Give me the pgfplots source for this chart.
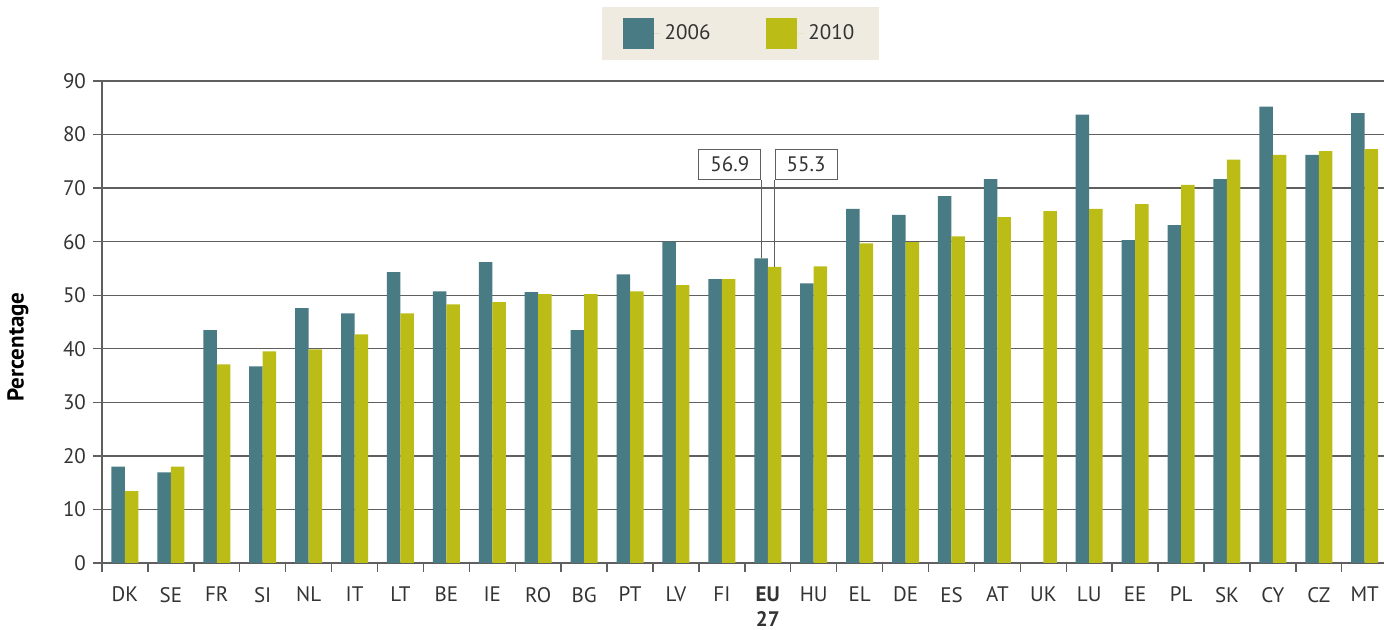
\documentclass[border=0pt]{standalone}
\usepackage{fontspec}
\setmainfont{PT Sans}
\usepackage{pgfplots}
\pgfplotsset{compat=1.18}

\definecolor{teal06}{RGB}{73,123,132}
\definecolor{olive10}{RGB}{187,189,22}
\definecolor{legbg}{RGB}{239,235,225}
\definecolor{txt}{RGB}{51,51,51}
\definecolor{gridc}{RGB}{95,95,95}

\begin{document}
\begin{tikzpicture}
\begin{axis}[
    name=ax,
    scale only axis,
    width=641pt, height=241pt,
    ybar=0pt, bar width=6.75pt,
    xmin=-0.5, xmax=27.42,
    ymin=0, ymax=90,
    ytick={0,10,...,90},
    xtick={0,...,27},
    xticklabels={DK,SE,FR,SI,NL,IT,LT,BE,IE,RO,BG,PT,LV,FI,{\textbf{EU}\\\textbf{27}},HU,EL,DE,ES,AT,UK,LU,EE,PL,SK,CY,CZ,MT},
    minor xtick={-0.5,0.5,...,26.5},
    xtick style={draw=none},
    minor x tick style={draw=gridc, line width=0.7pt},
    y tick style={draw=gridc, line width=0.7pt},
    tick align=outside,
    major tick length=4.5pt, minor tick length=4.5pt,
    axis x line*=bottom, axis y line*=left,
    axis line style={-, draw=gridc, line width=0.8pt},
    ymajorgrids=true,
    grid style={draw=gridc, line width=0.7pt},
    /pgf/number format/assume math mode=true,
    tick label style={font=\fontsize{10.5}{12.5}\selectfont, text=txt},
    xticklabel style={align=center, yshift=-4pt},
    ylabel={\textbf{Percentage}},
    ylabel style={at={(axis description cs:-0.0655,0.448)}, anchor=center, font=\fontsize{11.5}{12}\selectfont, text=black},
    legend columns=2,
    legend image code/.code={\fill[#1] (0pt,-7.75pt) rectangle (15.5pt,7.75pt); \path (15.5pt,0pt) -- (19pt,0pt);},
    legend style={at={(0.498,1.1535)}, anchor=north, fill=legbg, draw=none,
        inner xsep=10.5pt, inner ysep=5.5pt,
        font=\fontsize{10.5}{12}\selectfont, text=txt,
        /tikz/every even column/.append style={column sep=26pt}},
]
\addplot[fill=teal06, draw=none] coordinates {
    (0,18.0) (1,16.9) (2,43.5) (3,36.7) (4,47.6) (5,46.6) (6,54.3) (7,50.7)
    (8,56.2) (9,50.6) (10,43.5) (11,53.9) (12,60.0) (13,53.0) (14,56.9) (15,52.2)
    (16,66.1) (17,65.0) (18,68.5) (19,71.7) (21,83.7) (22,60.3) (23,63.1)
    (24,71.7) (25,85.2) (26,76.2) (27,84.0)
};
\addlegendentry{2006}
\addplot[fill=olive10, draw=none] coordinates {
    (0,13.4) (1,18.0) (2,37.1) (3,39.5) (4,39.9) (5,42.7) (6,46.6) (7,48.3)
    (8,48.7) (9,50.2) (10,50.2) (11,50.7) (12,51.9) (13,53.0) (14,55.3) (15,55.4)
    (16,59.7) (17,59.9) (18,61.0) (19,64.6) (20,65.7) (21,66.1) (22,67.0) (23,70.6)
    (24,75.3) (25,76.2) (26,76.9) (27,77.3)
};
\addlegendentry{2010}
% callouts for EU 27
\draw[gridc, line width=0.6pt] ([xshift=-3.2pt]axis cs:14,56.9) -- ([xshift=-3.2pt]axis cs:14,71.5);
\node[draw=gridc, line width=0.5pt, fill=white, anchor=south east, minimum width=31pt, minimum height=15pt, inner sep=0pt, text=txt, font=\fontsize{10.5}{12}\selectfont]
    at ([xshift=-3.2pt]axis cs:14,71.5) {56.9};
\draw[gridc, line width=0.6pt] ([xshift=3.4pt]axis cs:14,55.3) -- ([xshift=3.4pt]axis cs:14,71.5);
\node[draw=gridc, line width=0.5pt, fill=white, anchor=south west, minimum width=31pt, minimum height=15pt, inner sep=0pt, text=txt, font=\fontsize{10.5}{12}\selectfont]
    at ([xshift=3.4pt]axis cs:14,71.5) {55.3};
\end{axis}
\pgfresetboundingbox
\path[use as bounding box] (-51pt,-33.5pt) rectangle (641pt,281.5pt);
\end{tikzpicture}
\end{document}
